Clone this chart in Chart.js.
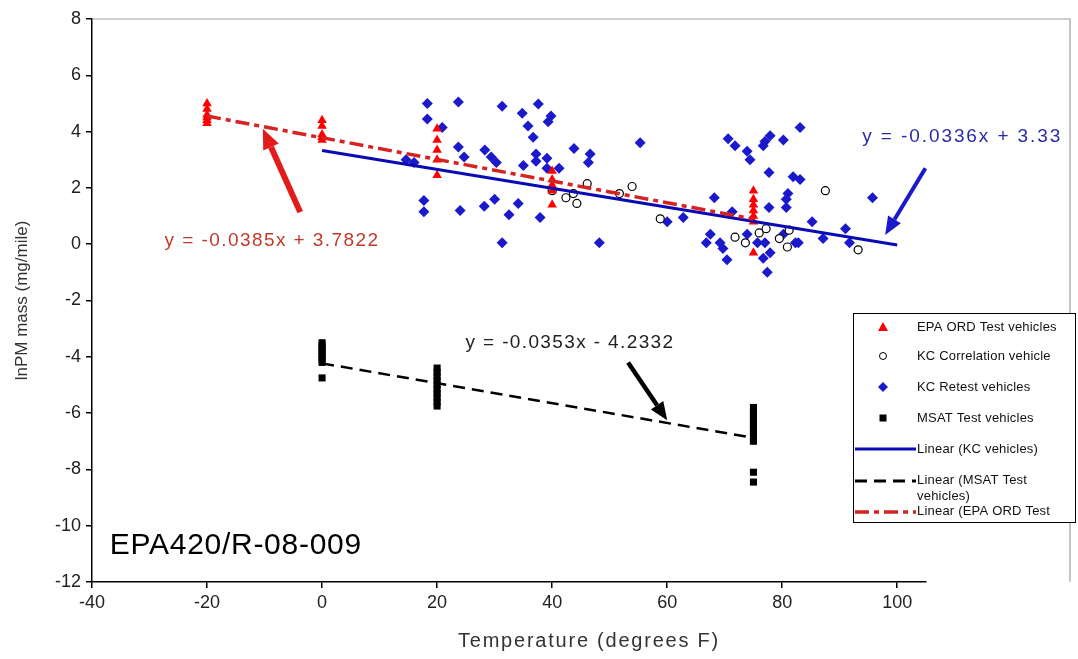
<!DOCTYPE html>
<html>
<head>
<meta charset="utf-8">
<title>lnPM mass vs temperature</title>
<script src="https://cdn.jsdelivr.net/npm/chart.js@4.4.1/dist/chart.umd.min.js"></script>
<style>
html, body { margin: 0; padding: 0; background: #fff; }
canvas { display: block; }
</style>
</head>
<body>
<canvas id="pm" width="1078" height="659"></canvas>
<script>
// EPA ORD test vehicles (red triangles)
var epaTemp = [-20,-20,-20,-20,-20,-20, 0,0,0,0,0, 20,20,20,20,20, 40,40,40,40,40, 75,75,75,75,75,75,75];
var epaPM   = [5.0,4.8,4.6,4.5,4.4,4.3, 4.4,4.2,3.9,3.8,3.7, 4.1,3.7,3.35,3.0,2.45, 2.6,2.3,2.1,1.9,1.4, 1.9,1.6,1.4,1.2,1.0,0.8,-0.3];

// KC correlation vehicle (open circles)
var corrTemp = [40,42.4,43.7,44.3,46.1,51.7,53.9,58.8,71.8,73.6,76,77.2,79.5,81.2,80.9,87.5,93.2];
var corrPM   = [1.9,1.65,1.8,1.45,2.15,1.8,2.05,0.9,0.25,0.05,0.4,0.55,0.2,0.5,-0.1,1.9,-0.2];

// KC retest vehicles (blue diamonds)
var retestTemp = [14.6,16,18.3,18.3,20.9,23.7,23.7,24.7,17.7,17.7,24,
  31.3,34.8,37.6,39.8,39.3,35.8,36.7,28.3,29.4,30.3,35,37.2,37.2,39.1,39.1,41.2,43.8,46.6,46.3,55.3,
  28.2,30,34.1,32.5,37.9,31.3,48.2,60,
  83.1,70.6,71.8,73.9,74.4,77,77.9,80.2,76.7,77.7,81.9,83.1,81,80.7,80.7,77.7,68.2,95.7,62.8,71.3,
  85.2,91,87.1,91.7,67.5,66.8,69.2,69.7,70.4,73.9,75.7,77,76.7,77.9,77.4,80.2,82.3,82.8];
var retestPM = [3.0,2.9,5.0,4.45,4.15,5.05,3.45,3.1,1.55,1.15,1.2,
  4.9,4.65,4.98,4.55,4.35,4.2,3.8,3.35,3.1,2.9,2.8,3.2,2.95,3.05,2.7,2.7,3.4,3.2,2.9,3.6,
  1.35,1.6,1.45,1.05,0.95,0.05,0.05,0.8,
  4.15,3.75,3.5,3.3,3.0,3.65,3.85,3.7,3.5,2.55,2.4,2.3,1.8,1.6,1.3,1.3,1.65,1.65,0.95,1.15,
  0.8,0.55,0.2,0.05,0.35,0.05,0.05,-0.15,-0.55,0.35,0.05,0.05,-0.5,-0.3,-1.0,0.35,0.05,0.05];

// MSAT test vehicles (black squares)
var msatTemp = [0,0,0,0,0,0,0,0,0, 20,20,20,20,20,20,20,20,20,20, 75,75,75,75,75,75,75,75,75,75,75];
var msatPM   = [-3.5,-3.6,-3.7,-3.8,-3.9,-4.0,-4.1,-4.2,-4.75,
  -4.4,-4.55,-4.7,-4.85,-5.0,-5.15,-5.3,-5.45,-5.6,-5.75,
  -5.8,-5.95,-6.1,-6.25,-6.4,-6.55,-6.7,-6.85,-7.0,-8.1,-8.45];

// linear trend lines (end points)
var kcFitTemp = [0, 100],  kcFitPM = [3.33, -0.03];
var msatFitTemp = [0, 75], msatFitPM = [-4.2332, -6.8807];
var epaFitTemp = [-20, 75], epaFitPM = [4.5522, 0.8947];

var yTicks = [-12,-10,-8,-6,-4,-2,0,2,4,6,8];
var xTicks = [-40,-20,0,20,40,60,80,100];

var eqTexts = ['y = -0.0385x + 3.7822', 'y = -0.0336x + 3.33', 'y = -0.0353x - 4.2332'];

var FONT = '"Liberation Sans", Arial, sans-serif';

function pairs(xs, ys) {
	return xs.map(function(x, i){ return { x: x, y: ys[i] }; });
}

var overlay = {
	id: 'overlay',
	afterDatasetsDraw: function(chart) {
		var ctx = chart.ctx, xs = chart.scales.x, ys = chart.scales.y, a = chart.chartArea;
		var px = function(t){ return xs.getPixelForValue(t); };
		var py = function(v){ return ys.getPixelForValue(v); };

		// spread text out with letter spacing so it fills the given width
		function fitText(txt, cx, cy, width, font, color) {
			ctx.save();
			ctx.font = font;
			ctx.letterSpacing = '0px';
			var w = ctx.measureText(txt).width;
			var sp = Math.max(0, (width - w) / txt.length);
			ctx.letterSpacing = sp + 'px';
			ctx.textAlign = 'left';
			ctx.textBaseline = 'middle';
			ctx.fillStyle = color;
			ctx.fillText(txt, cx - width / 2, cy);
			ctx.restore();
		}
		function spacedText(txt, x, y, font, color, sp) {
			ctx.save();
			ctx.font = font;
			ctx.letterSpacing = sp + 'px';
			ctx.textAlign = 'left';
			ctx.textBaseline = 'middle';
			ctx.fillStyle = color;
			ctx.fillText(txt, x, y);
			ctx.restore();
		}
		function arrow(x1, y1, x2, y2, color, w, hl, hw) {
			var ang = Math.atan2(y2 - y1, x2 - x1);
			var bx = x2 - hl * Math.cos(ang), by = y2 - hl * Math.sin(ang);
			ctx.save();
			ctx.strokeStyle = color; ctx.fillStyle = color; ctx.lineWidth = w;
			ctx.beginPath(); ctx.moveTo(x1, y1); ctx.lineTo(bx, by); ctx.stroke();
			ctx.beginPath();
			ctx.moveTo(x2, y2);
			ctx.lineTo(bx + hw / 2 * Math.sin(ang), by - hw / 2 * Math.cos(ang));
			ctx.lineTo(bx - hw / 2 * Math.sin(ang), by + hw / 2 * Math.cos(ang));
			ctx.closePath(); ctx.fill();
			ctx.restore();
		}

		ctx.save();
		// gray plot-area frame, top and right
		ctx.strokeStyle = '#a0a0a0'; ctx.lineWidth = 1.2;
		ctx.beginPath();
		ctx.moveTo(a.left, a.top); ctx.lineTo(1070, a.top); ctx.lineTo(1070, a.bottom);
		ctx.stroke();

		// arrows pointing at the trend lines
		arrow(px(-3.8), py(1.14), px(-10.3), py(4.1), '#e41b1b', 6, 20, 17);
		arrow(px(104.9), py(2.7), px(97.9), py(0.33), '#1a1acc', 4, 18, 15);
		arrow(px(53.2), py(-4.2), px(60), py(-6.25), '#000000', 4.5, 18, 15);

		// regression equations
		fitText(eqTexts[0], px(-8.7), py(0.11), 215, '19px ' + FONT, '#c0392b');
		fitText(eqTexts[1], px(111.3), py(3.81), 200, '19px ' + FONT, '#2b2ba8');
		fitText(eqTexts[2], px(43.1), py(-3.51), 209, '19px ' + FONT, '#222');

		// report number
		fitText('EPA420/R-08-009', px(-36.9) + 126, py(-10.7), 252, '30px ' + FONT, '#000');

		// x axis title
		fitText('Temperature (degrees F)', 589, 641, 262, '20px ' + FONT, '#333');

		// legend box
		var lx = 853, ly = 313, lw = 222, lh = 209;
		ctx.fillStyle = '#fff';
		ctx.fillRect(lx, ly, lw, lh);
		ctx.strokeStyle = '#000'; ctx.lineWidth = 1;
		ctx.strokeRect(lx + 0.5, ly + 0.5, lw, lh);
		ctx.save();
		ctx.beginPath(); ctx.rect(lx, ly, lw, lh); ctx.clip();
		var lf = '13px ' + FONT, tx = 917, mx = 883;
		// markers
		ctx.fillStyle = '#ff0000';
		ctx.beginPath(); ctx.moveTo(mx, 322); ctx.lineTo(mx + 5, 331); ctx.lineTo(mx - 5, 331); ctx.closePath(); ctx.fill();
		ctx.fillStyle = '#fff'; ctx.strokeStyle = '#000'; ctx.lineWidth = 1;
		ctx.beginPath(); ctx.arc(mx, 356, 3.5, 0, Math.PI * 2); ctx.fill(); ctx.stroke();
		ctx.fillStyle = '#1a1acc';
		ctx.beginPath(); ctx.moveTo(mx, 382); ctx.lineTo(mx + 5, 387); ctx.lineTo(mx, 392); ctx.lineTo(mx - 5, 387); ctx.closePath(); ctx.fill();
		ctx.fillStyle = '#000';
		ctx.fillRect(mx - 3.5, 414.5, 7, 7);
		// line samples
		ctx.lineWidth = 3; ctx.strokeStyle = '#0a0ab4';
		ctx.beginPath(); ctx.moveTo(855, 449); ctx.lineTo(916, 449); ctx.stroke();
		ctx.strokeStyle = '#000'; ctx.setLineDash([12, 7]);
		ctx.beginPath(); ctx.moveTo(855, 481); ctx.lineTo(916, 481); ctx.stroke();
		ctx.strokeStyle = '#d62222'; ctx.setLineDash([14, 5, 5, 5]); ctx.lineWidth = 3.5;
		ctx.beginPath(); ctx.moveTo(855, 512); ctx.lineTo(916, 512); ctx.stroke();
		ctx.setLineDash([]);
		// labels
		spacedText('EPA ORD Test vehicles', tx, 327, lf, '#111', 0.2);
		spacedText('KC Correlation vehicle', tx, 356, lf, '#111', 0.2);
		spacedText('KC Retest vehicles', tx, 387, lf, '#111', 0.2);
		spacedText('MSAT Test vehicles', tx, 418, lf, '#111', 0.2);
		spacedText('Linear (KC vehicles)', tx, 449, lf, '#111', 0.2);
		spacedText('Linear (MSAT Test', tx, 480, lf, '#111', 0.2);
		spacedText('vehicles)', tx, 496, lf, '#111', 0.2);
		spacedText('Linear (EPA ORD Test', tx, 511, lf, '#111', 0.2);
		ctx.restore();
		ctx.restore();
	}
};

var ctx = document.getElementById('pm').getContext('2d');
new Chart(ctx, {
	type: 'scatter',
	data: {
		datasets: [
			{
				type: 'line', label: 'Linear (KC vehicles)', data: pairs(kcFitTemp, kcFitPM),
				borderColor: '#0a0ab4', borderWidth: 3, pointRadius: 0, fill: false, order: 1
			},
			{
				type: 'line', label: 'Linear (MSAT Test vehicles)', data: pairs(msatFitTemp, msatFitPM),
				borderColor: '#000', borderWidth: 2.5, borderDash: [12, 7], pointRadius: 0, fill: false, order: 1
			},
			{
				type: 'line', label: 'Linear (EPA ORD Test vehicles)', data: pairs(epaFitTemp, epaFitPM),
				borderColor: '#d62222', borderWidth: 3.5, borderDash: [14, 5, 5, 5], pointRadius: 0, fill: false, order: 0
			},
			{
				label: 'EPA ORD Test vehicles', data: pairs(epaTemp, epaPM),
				pointStyle: 'triangle', pointRadius: 5.5, backgroundColor: '#ff0000', borderColor: '#ff0000', borderWidth: 0, order: 2
			},
			{
				label: 'KC Correlation vehicle', data: pairs(corrTemp, corrPM),
				pointStyle: 'circle', pointRadius: 4, backgroundColor: '#fff', borderColor: '#000', borderWidth: 1.2, order: 3
			},
			{
				label: 'KC Retest vehicles', data: pairs(retestTemp, retestPM),
				pointStyle: 'rectRot', pointRadius: 5.5, backgroundColor: '#1a1acc', borderColor: '#1a1acc', borderWidth: 0, order: 4
			},
			{
				label: 'MSAT Test vehicles', data: pairs(msatTemp, msatPM),
				pointStyle: 'rect', pointRadius: 5, backgroundColor: '#000', borderColor: '#000', borderWidth: 0, order: 2
			}
		]
	},
	options: {
		responsive: false,
		animation: false,
		layout: { padding: { top: 19, right: 152, left: 0, bottom: 0 } },
		plugins: { legend: { display: false }, tooltip: { enabled: false } },
		scales: {
			x: {
				type: 'linear', min: -40, max: 105,
				afterBuildTicks: function(scale){ scale.ticks = xTicks.map(function(v){ return { value: v }; }); },
				afterFit: function(scale){ scale.height = 77; },
				border: { color: '#000', width: 1.5 },
				grid: { drawOnChartArea: false, drawTicks: true, tickLength: 6, color: '#000', lineWidth: 1.5 },
				ticks: { padding: 4, color: '#222', font: { family: FONT, size: 18 }, maxRotation: 0 }
			},
			y: {
				type: 'linear', min: -12, max: 8,
				afterBuildTicks: function(scale){ scale.ticks = yTicks.map(function(v){ return { value: v }; }); },
				afterFit: function(scale){ scale.width = 92; },
				border: { color: '#000', width: 1.5 },
				grid: { drawOnChartArea: false, drawTicks: true, tickLength: 6, color: '#000', lineWidth: 1.5 },
				ticks: { padding: 5, color: '#222', font: { family: FONT, size: 18 } },
				title: { display: true, text: 'lnPM mass (mg/mile)', color: '#333', font: { family: FONT, size: 17 }, padding: { top: 12, bottom: 0 } }
			}
		}
	},
	plugins: [overlay]
});
</script>
</body>
</html>
